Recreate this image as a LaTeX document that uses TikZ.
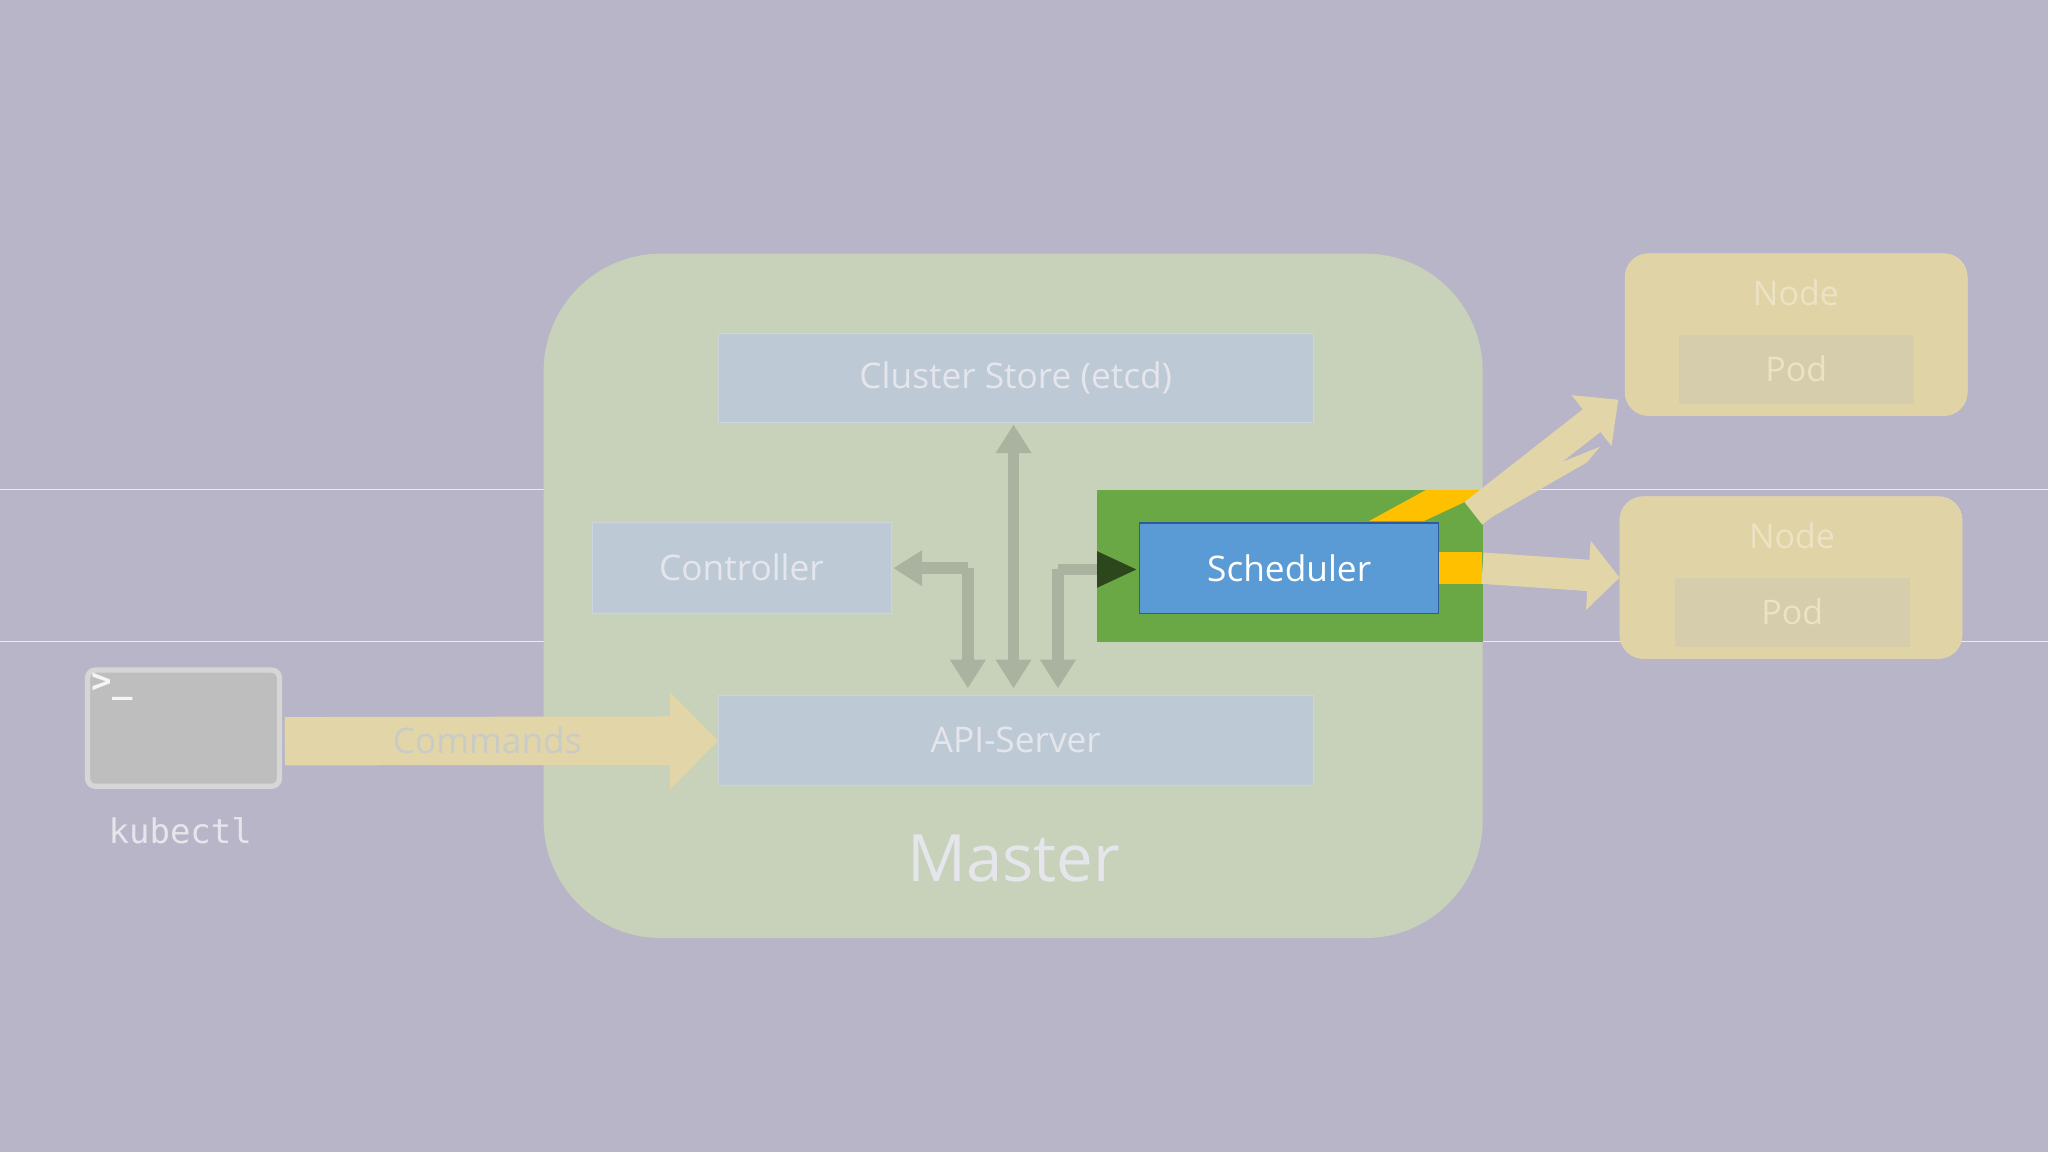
\documentclass[tikz,border=0pt]{standalone}
\usepackage{fontspec}
\setmainfont{Open Sans}
\setmonofont{DejaVu Sans Mono}
\usetikzlibrary{arrows.meta}
\definecolor{bg}{RGB}{183,181,199}
\definecolor{masterc}{RGB}{200,210,186}
\definecolor{boxc}{RGB}{190,201,214}
\definecolor{boxline}{RGB}{205,212,222}
\definecolor{fadetxt}{RGB}{228,230,236}
\definecolor{grn}{RGB}{106,168,70}
\definecolor{blu}{RGB}{91,155,213}
\definecolor{bluline}{RGB}{46,90,160}
\definecolor{yel}{RGB}{255,192,0}
\definecolor{fadey}{RGB}{226,214,168}
\definecolor{nodec}{RGB}{224,212,166}
\definecolor{podc}{RGB}{214,205,172}
\definecolor{nodetxt}{RGB}{236,226,196}
\definecolor{arrg}{RGB}{170,178,160}
\definecolor{term}{RGB}{190,190,190}
\definecolor{termline}{RGB}{214,214,214}
\tikzset{
  fbox/.style={draw=boxline,fill=boxc,text=fadetxt,font=\fontsize{27}{30}\selectfont},
  nodebox/.style={fill=nodec,rounded corners=18pt,draw=nodec!90!white},
  podbox/.style={fill=podc,text=nodetxt,font=\fontsize{26}{30}\selectfont},
  ga/.style={draw=arrg,line width=9pt,-{Triangle[width=26pt,length=22pt]}},
}
\begin{document}
\begin{tikzpicture}[x=1pt,y=-1pt]
\useasboundingbox (0,0) rectangle (1568,882);
\fill[bg] (0,0) rectangle (1568,882);
\draw[white!70!bg,line width=1pt] (0,375) -- (1568,375) (0,491) -- (1568,491);
% master
\node[fill=masterc,rounded corners=90pt,minimum width=719pt,minimum height=524pt,anchor=north west,inner sep=0] (master) at (416,194) {};
\node[text=fadetxt,font=\fontsize{50}{56}\selectfont] (mlabel) at (776,657) {Master};
\node[fbox,minimum width=455pt,minimum height=68pt,anchor=north west] (store) at (550,255) {};
\node[text=fadetxt,font=\fontsize{27}{30}\selectfont] at (store.center) {Cluster Store (etcd)};
\node[fbox,minimum width=229pt,minimum height=69pt,anchor=north west] (ctrl) at (453,400) {};
\node[text=fadetxt,font=\fontsize{27}{30}\selectfont] at (ctrl.center) {Controller};
\node[fbox,minimum width=455pt,minimum height=69pt,anchor=north west] (api) at (550,532) {};
\node[text=fadetxt,font=\fontsize{27}{30}\selectfont] at (api.center) {API-Server};
% gray arrows
\coordinate (a1) at (776,527); \coordinate (a2) at (776,325);
\draw[draw=arrg,line width=9pt,{Triangle[width=26pt,length=22pt]}-{Triangle[width=26pt,length=22pt]}] (a2) -- (a1);
\coordinate (b1) at (741,527); \coordinate (b2) at (741,435); \coordinate (b3) at (684,435);
\draw[draw=arrg,line width=9pt,-{Triangle[width=26pt,length=22pt]}] (b2) -- (b1);
\draw[ga] (b2) -- (b3);
\coordinate (c1) at (810,527); \coordinate (c2) at (810,436);
\draw[draw=arrg,line width=9pt,-{Triangle[width=26pt,length=22pt]}] (c2) -- (c1);
% scheduler highlight
\node[fill=grn,minimum width=295pt,minimum height=116pt,anchor=north west,inner sep=0] (hl) at (840,375) {};
\draw[draw=arrg,line width=9pt] (c2) -- (840,436);
\fill[yel] (1048,399) -- (1092,375) -- (1135,375) -- (1135,378) -- (1090,399) -- cycle;
\fill[yel] (1101,423) rectangle (1135,447);
\node[fill=blu,draw=bluline,line width=1pt,minimum width=229pt,minimum height=69pt,anchor=north west] (sched) at (872,400) {};
\node[text=white,font=\fontsize{27}{30}\selectfont] at (sched.center) {Scheduler};
\fill[black!30!grn!60!black] (840,422) -- (870,436) -- (840,450) -- cycle;
% nodes
\node[nodebox,minimum width=262pt,minimum height=124pt,anchor=north west] (n1) at (1244,194) {};
\node[text=nodetxt,font=\fontsize{26}{30}\selectfont] at (1375,224) {Node};
\node[podbox,minimum width=180pt,minimum height=53pt,anchor=north west] (p1) at (1285,256) {};
\node[text=nodetxt,font=\fontsize{26}{30}\selectfont] at (p1.center) {Pod};
\node[nodebox,minimum width=262pt,minimum height=124pt,anchor=north west] (n2) at (1240,380) {};
\node[text=nodetxt,font=\fontsize{26}{30}\selectfont] at (1372,410) {Node};
\node[podbox,minimum width=180pt,minimum height=53pt,anchor=north west] (p2) at (1282,442) {};
\node[text=nodetxt,font=\fontsize{26}{30}\selectfont] at (p2.center) {Pod};
% faded yellow arrows
\draw[fadey,line width=24pt,-{Triangle[width=52pt,length=24pt]}] (1135,435) -- (n2.west);
\fill[fadey] (1135,378) -- (1135,400) -- (1215,354) -- (1225,342) -- cycle;
\draw[fadey,line width=22pt,-{Triangle[width=48pt,length=26pt]}] (1128,393) -- (1239,306);
% terminal
\node[fill=term,draw=termline,line width=4pt,rounded corners=6pt,minimum width=147pt,minimum height=89pt,anchor=north west] (tm) at (65,511) {};
\node[text=white!85!term,font=\ttfamily\bfseries\fontsize{26}{28}\selectfont,anchor=north west,inner sep=0] at (70,515) {>\_};
\node[text=fadetxt,font=\ttfamily\fontsize{26}{28}\selectfont] (kl) at (138,636) {kubectl};
% commands arrow
\draw[fadey,line width=37pt,-{Triangle[width=72pt,length=37pt]}] (tm.east) ++(2,10) -- (api.west |- 0,567);
\node[text=white!40!arrg!80!bg,font=\fontsize{27}{30}\selectfont] at (373,567) {Commands};
\end{tikzpicture}
\end{document}
